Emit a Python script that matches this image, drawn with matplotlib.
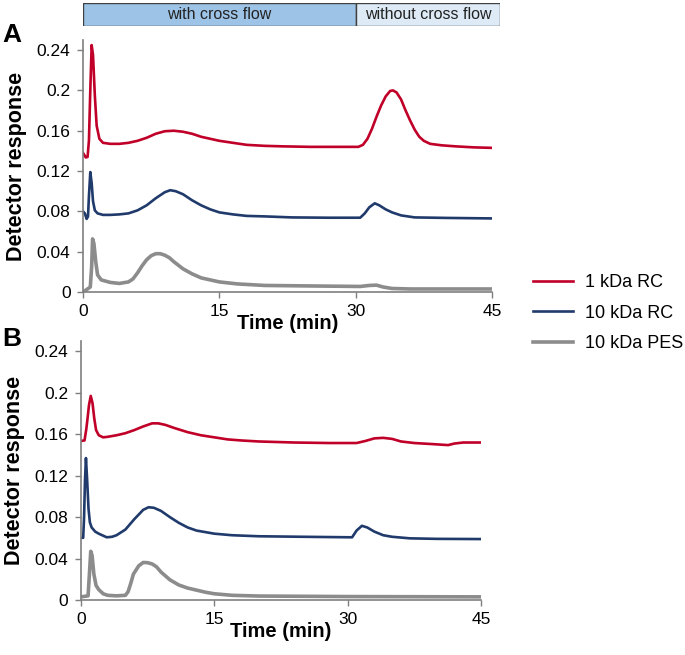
import matplotlib
matplotlib.use("Agg")
import matplotlib.pyplot as plt
from matplotlib.patches import Rectangle

plt.rcParams['font.family'] = ['Liberation Sans', 'DejaVu Sans']

# panel A (top)
a_red_t = [0, 0.3, 0.5, 0.65, 0.8, 0.95, 1.1, 1.3, 1.5, 1.8, 2.2, 3, 4, 5, 6, 7, 8, 9, 10, 11,
           12, 13, 14, 15, 16.5, 18, 20, 22, 25, 28, 30.3, 30.8, 31.3, 31.8, 32.3, 32.8, 33.3,
           33.8, 34.1, 34.5, 35, 35.5, 36, 36.5, 37, 37.5, 38.2, 39.5, 41, 43, 45]
a_red_v = [0.138, 0.1335, 0.134, 0.15, 0.2, 0.245, 0.235, 0.195, 0.165, 0.152, 0.148, 0.147,
           0.147, 0.148, 0.150, 0.153, 0.157, 0.1595, 0.160, 0.159, 0.157, 0.154, 0.152, 0.150,
           0.148, 0.146, 0.145, 0.1445, 0.144, 0.144, 0.144, 0.146, 0.152, 0.162, 0.174, 0.185,
           0.194, 0.1995, 0.200, 0.198, 0.191, 0.180, 0.170, 0.161, 0.154, 0.150, 0.147, 0.1455,
           0.1445, 0.1435, 0.143]

a_blue_t = [0, 0.2, 0.4, 0.55, 0.65, 0.8, 0.95, 1.1, 1.3, 1.6, 2.2, 3, 4, 5, 6, 7, 8, 9, 9.6,
            10.2, 11, 12, 13, 14, 15, 16.5, 18, 20, 23, 27, 30.5, 31, 31.5, 32.1, 32.6, 33.3,
            34, 35, 36.5, 40, 45]
a_blue_v = [0.080, 0.078, 0.0725, 0.075, 0.095, 0.119, 0.108, 0.090, 0.081, 0.078, 0.0765,
            0.0765, 0.077, 0.078, 0.081, 0.086, 0.093, 0.099, 0.101, 0.100, 0.097, 0.091, 0.086,
            0.082, 0.079, 0.077, 0.0755, 0.075, 0.074, 0.0737, 0.0737, 0.078, 0.084, 0.088,
            0.086, 0.082, 0.079, 0.076, 0.074, 0.0735, 0.073]

a_gray_t = [0, 0.5, 0.8, 0.95, 1.05, 1.2, 1.4, 1.6, 2, 3, 4, 5, 5.5, 6, 6.5, 7, 7.5, 8, 8.5, 9,
            9.5, 10, 11, 12, 13, 14, 15, 17, 20, 25, 30.5, 31.5, 32.3, 33, 34, 36, 40, 45]
a_gray_v = [0.0, 0.003, 0.005, 0.025, 0.0527, 0.048, 0.030, 0.017, 0.012, 0.0095, 0.0085,
            0.010, 0.013, 0.019, 0.026, 0.032, 0.036, 0.038, 0.038, 0.0365, 0.034, 0.030, 0.023,
            0.018, 0.014, 0.012, 0.010, 0.008, 0.0065, 0.006, 0.0055, 0.0065, 0.0068, 0.005,
            0.0035, 0.003, 0.003, 0.003]

# panel B (bottom)
b_red_t = [0, 0.4, 0.6, 0.75, 0.9, 1.1, 1.3, 1.5, 1.7, 2, 2.5, 3, 4, 5, 6, 7, 8, 8.7, 9.5,
           10.5, 12, 13.5, 15, 16.5, 18, 20, 24, 28, 31, 32, 33, 34, 35, 36, 37.5, 39.5, 41.3,
           42, 43, 45]
b_red_v = [0.1535, 0.154, 0.165, 0.176, 0.188, 0.197, 0.19, 0.175, 0.164, 0.159, 0.157, 0.1575,
           0.159, 0.161, 0.164, 0.1675, 0.1705, 0.1705, 0.169, 0.166, 0.162, 0.159, 0.157, 0.155,
           0.154, 0.153, 0.152, 0.1515, 0.1515, 0.1535, 0.156, 0.1565, 0.1555, 0.153, 0.1515,
           0.1505, 0.1495, 0.151, 0.152, 0.152]

b_blue_t = [0, 0.25, 0.35, 0.45, 0.56, 0.7, 0.85, 1.0, 1.2, 1.6, 2, 2.9, 3.5, 4, 5, 6, 7, 7.6,
            8.2, 9, 10, 11, 12, 13, 14, 15, 17, 20, 25, 30.5, 31, 31.6, 32.2, 33, 34, 35, 37,
            40, 45]
b_blue_v = [0.060, 0.060, 0.08, 0.115, 0.137, 0.115, 0.088, 0.075, 0.070, 0.066, 0.064, 0.0605,
            0.061, 0.0625, 0.068, 0.078, 0.087, 0.0895, 0.089, 0.086, 0.080, 0.0745, 0.070,
            0.067, 0.0655, 0.064, 0.0625, 0.0615, 0.061, 0.0605, 0.067, 0.0716, 0.070, 0.066,
            0.0625, 0.061, 0.0595, 0.059, 0.0588]

b_gray_t = [0, 0.8, 0.95, 1.1, 1.25, 1.45, 1.7, 2, 2.5, 3, 4, 5, 5.3, 5.6, 5.9, 6.5, 7, 7.5, 8,
            8.5, 9, 10, 11, 12, 13, 14, 15, 17, 20, 30, 45]
b_gray_v = [0.003, 0.004, 0.025, 0.047, 0.043, 0.025, 0.014, 0.010, 0.006, 0.0045, 0.004,
            0.0045, 0.008, 0.016, 0.025, 0.033, 0.0362, 0.036, 0.0348, 0.032, 0.027, 0.0195,
            0.0145, 0.0115, 0.0095, 0.0075, 0.006, 0.0045, 0.0038, 0.0033, 0.003]

labels = ["1 kDa RC", "10 kDa RC", "10 kDa PES"]
colors = ["#C00028", "#1F3A6B", "#8C8C8C"]
widths = [1.9, 1.9, 2.6]

yticks = [0, 0.04, 0.08, 0.12, 0.16, 0.2, 0.24]
ytick_labels = ["0", "0.04", "0.08", "0.12", "0.16", "0.2", "0.24"]
xticks = [0, 15, 30, 45]

fig = plt.figure(figsize=(6.85, 6.55), dpi=100)
ax_a = fig.add_axes([0.1212, 0.5542, 0.597, 0.3847])
ax_b = fig.add_axes([0.1182, 0.084, 0.584, 0.3954])

panels = [
    (ax_a, [(a_red_t, a_red_v), (a_blue_t, a_blue_v), (a_gray_t, a_gray_v)]),
    (ax_b, [(b_red_t, b_red_v), (b_blue_t, b_blue_v), (b_gray_t, b_gray_v)]),
]

spine_col = "#7F7F7F"
for ax, series in panels:
    for (t, v), c, lw, lab in zip(series, colors, widths, labels):
        ax.plot(t, v, color=c, lw=lw, label=lab, solid_joinstyle='round')
    ax.set_xlim(0, 45)
    ax.set_ylim(0, 0.25)
    ax.set_xticks(xticks)
    ax.set_yticks(yticks)
    ax.set_yticklabels(ytick_labels)
    ax.spines['top'].set_visible(False)
    ax.spines['right'].set_visible(False)
    for s in ['left', 'bottom']:
        ax.spines[s].set_color(spine_col)
        ax.spines[s].set_linewidth(1.2)
    ax.tick_params(direction='out', length=4, width=1, color=spine_col,
                   labelsize=12.5, pad=5)
    ax.set_xlabel("Time (min)", fontsize=14.5, fontweight='bold', labelpad=-4)
    ax.set_ylabel("Detector response", fontsize=15.5, fontweight='bold', labelpad=7)

fig.text(0.003, 0.965, "A", fontsize=19, fontweight='bold', va='top')
fig.text(0.003, 0.5, "B", fontsize=19, fontweight='bold', va='top')

# cross flow bar on top
ax_bar = fig.add_axes([0.1212, 0.9603, 0.6088, 0.0351])
ax_bar.set_xlim(0, 45.88)
ax_bar.set_ylim(0, 1)
ax_bar.axis('off')
ax_bar.add_patch(Rectangle((0, 0), 30, 1, facecolor="#9DC3E6", edgecolor="#404040", lw=1))
ax_bar.add_patch(Rectangle((30, 0), 15.88, 1, facecolor="#DEEBF7", edgecolor="#404040", lw=1))
ax_bar.text(15, 0.5, "with cross flow", ha='center', va='center', fontsize=11.5, color="#222222")
ax_bar.text(37.94, 0.5, "without cross flow", ha='center', va='center', fontsize=11.5, color="#222222")

handles, labs = ax_a.get_legend_handles_labels()
fig.legend(handles, labs, loc='center left', bbox_to_anchor=(0.778, 0.522),
           frameon=False, fontsize=13, handlelength=2.2, handletextpad=0.7,
           labelspacing=0.75, borderpad=0, borderaxespad=0)

fig.savefig("out.png", dpi=100)
